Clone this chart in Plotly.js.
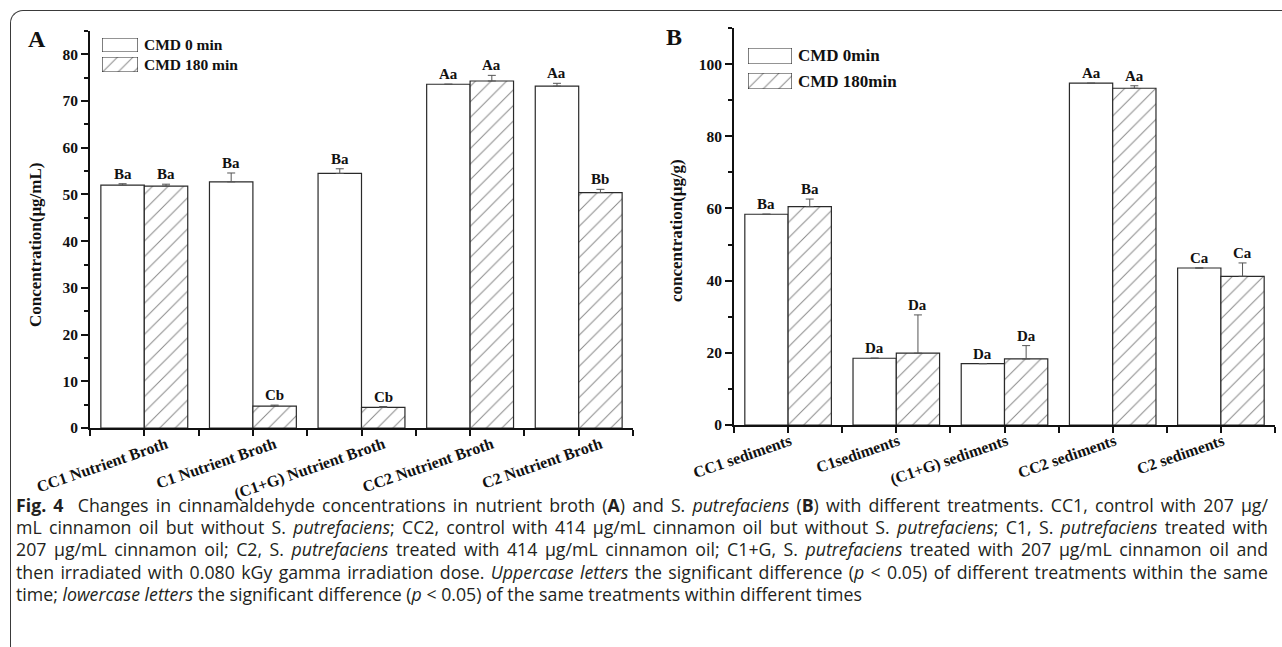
<!DOCTYPE html>
<html>
<head>
<meta charset="utf-8">
<script src="https://cdn.plot.ly/plotly-3.0.1.min.js"></script>
<style>
  html, body { margin:0; padding:0; background:#fff; }
  #wrap { position:relative; width:1282px; height:647px; overflow:hidden; background:#fff; }
  #frame { position:absolute; left:10px; top:10px; width:1300px; height:700px;
           border-top:1.3px solid #3a3a3a; border-left:1.3px solid #3a3a3a; border-top-left-radius:13px; }
  #plot { position:absolute; left:0; top:0; width:1282px; height:647px; }
  #cap { position:absolute; left:16px; top:494px; width:1252px; font-family:"Open Sans","Noto Sans",sans-serif;
         color:#231f20; font-size:14px; line-height:22.2px; }
  #cap .j { text-align:justify; text-align-last:justify; white-space:nowrap; }
  #cap .l { text-align:left; white-space:nowrap; }
</style>
</head>
<body>
<div id="wrap">
  <div id="frame"></div>
  <div id="plot"></div>
  <div id="cap">
    <div class="j"><b>Fig. 4</b>&nbsp; Changes in cinnamaldehyde concentrations in nutrient broth (<b>A</b>) and S. <i>putrefaciens</i> (<b>B</b>) with different treatments. CC1, control with 207 μg/</div>
    <div class="j">mL cinnamon oil but without S. <i>putrefaciens</i>; CC2, control with 414 μg/mL cinnamon oil but without S. <i>putrefaciens</i>; C1, S. <i>putrefaciens</i> treated with</div>
    <div class="j">207 μg/mL cinnamon oil; C2, S. <i>putrefaciens</i> treated with 414 μg/mL cinnamon oil; C1+G, S. <i>putrefaciens</i> treated with 207 μg/mL cinnamon oil and</div>
    <div class="j">then irradiated with 0.080 kGy gamma irradiation dose. <i>Uppercase letters</i> the significant difference (<i>p</i> &lt; 0.05) of different treatments within the same</div>
    <div class="l" id="last">time; <i>lowercase letters</i> the significant difference (<i>p</i> &lt; 0.05) of the same treatments within different times</div>
  </div>
</div>
<script>
// ---------- data ----------
const catsA = ['CC1 Nutrient Broth', 'C1 Nutrient Broth', '(C1+G) Nutrient Broth', 'CC2 Nutrient Broth', 'C2 Nutrient Broth'];
const a0 = [52.0, 52.7, 54.5, 73.6, 73.2];
const a0err = [0.3, 1.9, 1.0, 0.0, 0.6];
const a180 = [51.8, 4.7, 4.4, 74.3, 50.4];
const a180err = [0.4, 0.2, 0.2, 1.2, 0.7];
const a0letters = ['Ba', 'Ba', 'Ba', 'Aa', 'Aa'];
const a180letters = ['Ba', 'Cb', 'Cb', 'Aa', 'Bb'];

const catsB = ['CC1 sediments', 'C1sediments', '(C1+G) sediments', 'CC2 sediments', 'C2 sediments'];
const b0 = [58.4, 18.5, 17.0, 94.7, 43.5];
const b0err = [0.0, 0.0, 0.0, 0.0, 0.0];
const b180 = [60.5, 19.9, 18.3, 93.3, 41.2];
const b180err = [2.1, 10.6, 3.7, 0.7, 3.7];
const b0letters = ['Ba', 'Da', 'Da', 'Aa', 'Ca'];
const b180letters = ['Ba', 'Da', 'Da', 'Aa', 'Ca'];

const legA = ['CMD 0 min', 'CMD 180 min'];
const legB = ['CMD 0min', 'CMD 180min'];

// ---------- styles ----------
const serif = '"Liberation Serif","Times New Roman",serif';
const W = 1282, H = 647;
const px = v => v / W, py = v => 1 - v / H;
const idxA = catsA.map((c, i) => i);
const idxB = catsB.map((c, i) => i);
const lineStyle = { color: '#2a2a2a', width: 1.2 };
const hatch = { shape: '/', fgcolor: '#8a8a8a', bgcolor: 'white', size: 11, solidity: 0.09 };
const errStyle = (arr) => ({ type: 'data', symmetric: false, array: arr, arrayminus: arr.map(() => 0),
                             color: '#555', thickness: 1, width: 4 });
const bold = (size) => ({ size: size, family: serif, weight: 'bold', color: '#111' });

const traces = [
  { type: 'bar', x: idxA, y: a0, name: legA[0], xaxis: 'x', yaxis: 'y', showlegend: false,
    marker: { color: 'white', line: lineStyle }, error_y: errStyle(a0err) },
  { type: 'bar', x: idxA, y: a180, name: legA[1], xaxis: 'x', yaxis: 'y', showlegend: false,
    marker: { color: 'white', line: lineStyle, pattern: hatch }, error_y: errStyle(a180err) },
  { type: 'bar', x: idxB, y: b0, name: legB[0], xaxis: 'x2', yaxis: 'y2', showlegend: false,
    marker: { color: 'white', line: lineStyle }, error_y: errStyle(b0err) },
  { type: 'bar', x: idxB, y: b180, name: legB[1], xaxis: 'x2', yaxis: 'y2', showlegend: false,
    marker: { color: 'white', line: lineStyle, pattern: hatch }, error_y: errStyle(b180err) }
];

// legend swatches: one full-size bar in its own hidden axis box
const swatches = [
  { ax: 3, hatched: false, box: [102, 138, 38, 52] },
  { ax: 4, hatched: true,  box: [102, 138, 57, 72] },
  { ax: 5, hatched: false, box: [748, 792, 48, 64] },
  { ax: 6, hatched: true,  box: [748, 792, 73, 89] }
];
swatches.forEach(s => {
  traces.push({ type: 'bar', x: [0], y: [1], width: [1], xaxis: 'x' + s.ax, yaxis: 'y' + s.ax, showlegend: false,
                hoverinfo: 'skip', marker: { color: 'white', line: lineStyle, pattern: s.hatched ? hatch : undefined } });
});

const annotations = [];
function letters(vals, errs, labs, off, xr, yr) {
  vals.forEach((v, i) => {
    annotations.push({ x: i + off, y: v + errs[i], xref: xr, yref: yr, text: labs[i], showarrow: false,
                       xanchor: 'center', yanchor: 'bottom', yshift: 0, font: bold(15) });
  });
}
letters(a0, a0err, a0letters, -0.2, 'x', 'y');
letters(a180, a180err, a180letters, 0.2, 'x', 'y');
letters(b0, b0err, b0letters, -0.2, 'x2', 'y2');
letters(b180, b180err, b180letters, 0.2, 'x2', 'y2');

function paperText(text, x, y, size, extra) {
  annotations.push(Object.assign({ text: text, x: px(x), y: py(y), xref: 'paper', yref: 'paper', showarrow: false,
                                   xanchor: 'center', yanchor: 'middle', font: bold(size) }, extra || {}));
}
paperText('A', 37, 39, 24);
paperText('B', 674, 37, 24);
paperText('Concentration(μg/mL)', 35, 245, 17, { textangle: -90 });
paperText('concentration(μg/g)', 676, 230, 17, { textangle: -90 });
paperText(legA[0], 142, 45, 15.5, { xanchor: 'left' });
paperText(legA[1], 142, 64.5, 15.5, { xanchor: 'left' });
paperText(legB[0], 796, 56, 17, { xanchor: 'left' });
paperText(legB[1], 796, 81, 17, { xanchor: 'left' });

const xBase = (cats, idx, dom, shift) => ({
  domain: dom, range: [-0.5, 4.5], tickmode: 'array', tickvals: idx, ticktext: cats, tickangle: -19,
  ticklabelshift: shift, ticklabelstandoff: -7,
  ticks: 'outside', ticklen: 6, tickwidth: 2, tickcolor: '#111', showline: true, linewidth: 2, linecolor: '#111',
  showgrid: false, zeroline: false, fixedrange: true,
  tickfont: bold(16),
  minor: { tickmode: 'linear', tick0: 0.5, dtick: 1, ticks: 'outside', ticklen: 6, tickwidth: 2, tickcolor: '#111', showgrid: false }
});
const yBase = (rng, dt, mdt, dom) => ({
  domain: dom, range: rng, dtick: dt, tick0: 0, ticks: 'outside', ticklen: 7, tickwidth: 2, tickcolor: '#111',
  showline: true, linewidth: 2, linecolor: '#111', showgrid: false, zeroline: false, fixedrange: true,
  tickfont: bold(15.5),
  minor: { dtick: mdt, tick0: 0, ticks: 'outside', ticklen: 4, tickwidth: 2, tickcolor: '#111', showgrid: false }
});

const layout = {
  width: W, height: H, margin: { l: 0, r: 0, t: 0, b: 0 },
  paper_bgcolor: 'rgba(0,0,0,0)', plot_bgcolor: 'rgba(0,0,0,0)',
  font: bold(14),
  barmode: 'group', bargap: 0.2, bargroupgap: 0,
  xaxis: Object.assign(xBase(catsA, idxA, [px(90), px(633)], 22), { anchor: 'y' }),
  yaxis: Object.assign(yBase([0, 85], 10, 5, [py(428), py(31)]), { anchor: 'x' }),
  xaxis2: Object.assign(xBase(catsB, idxB, [px(734), px(1275)], 2), { anchor: 'y2' }),
  yaxis2: Object.assign(yBase([0, 110], 20, 10, [py(425), py(28)]), { anchor: 'x2' }),
  annotations: annotations,
  showlegend: false
};
swatches.forEach(s => {
  const b = s.box;
  layout['xaxis' + s.ax] = { domain: [px(b[0]), px(b[1])], range: [-0.5, 0.5], visible: false, fixedrange: true, anchor: 'y' + s.ax };
  layout['yaxis' + s.ax] = { domain: [py(b[3]), py(b[2])], range: [0, 1], visible: false, fixedrange: true, anchor: 'x' + s.ax };
});

Plotly.newPlot('plot', traces, layout, { displayModeBar: false, staticPlot: true });

// fit caption font so that the last (unjustified) line matches the reference width
function fitCaption() {
  const last = document.getElementById('last');
  const cap = document.getElementById('cap');
  const span = document.createElement('span');
  span.innerHTML = last.innerHTML;
  span.style.whiteSpace = 'nowrap';
  last.innerHTML = '';
  last.appendChild(span);
  const w = span.getBoundingClientRect().width;
  const fs = 14 * 846 / w;
  cap.style.fontSize = fs.toFixed(2) + 'px';
}
if (document.fonts && document.fonts.ready) { document.fonts.ready.then(fitCaption); } else { fitCaption(); }
</script>
</body>
</html>
